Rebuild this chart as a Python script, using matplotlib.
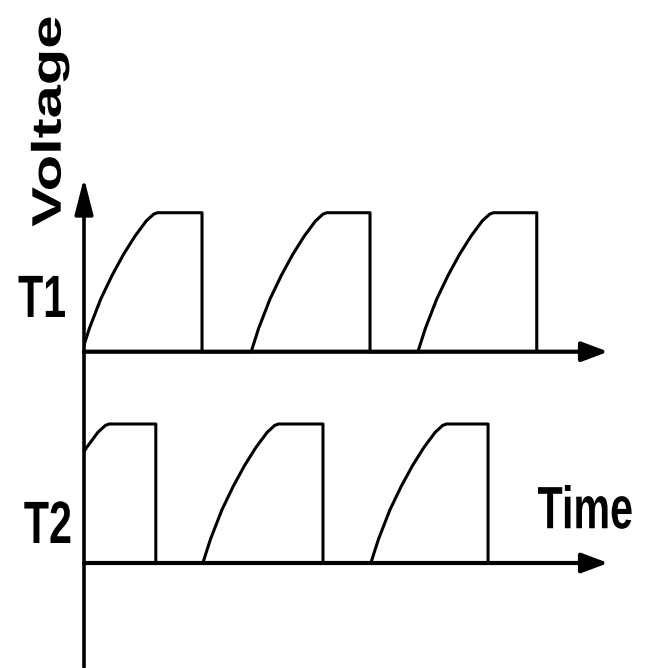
import numpy as np
import matplotlib
matplotlib.use('Agg')
import matplotlib.pyplot as plt
from matplotlib.patches import Rectangle
from matplotlib.patheffects import AbstractPathEffect
from matplotlib.transforms import Affine2D

# ============================================================================
# DATA (time in arbitrary units, voltage normalised to pulse height)
# ============================================================================

# rise shape of one pulse: (fraction of rise time, fraction of amplitude)
rise_frac_t = [0.0, 0.10, 0.25, 0.40, 0.55, 0.70, 0.85, 0.95, 1.0]
rise_frac_v = [0.0, 0.17, 0.38, 0.55, 0.70, 0.83, 0.94, 0.99, 1.0]
rise_time = 1.80

t1_rise_start = [-0.05, 3.98, 7.95]
t1_fall = [2.81, 6.81, 10.78]

t2_rise_start = [-1.2, 2.83, 6.83]
t2_fall = [1.71, 5.69, 9.62]

t1_offset = 1.52     # T1 baseline above T2 baseline
t_axis_end = 12.48
v_axis_top = 2.77
v_axis_bottom = -0.75

labels = {'T1': (-1.0, 1.77), 'T2': (-0.86, 0.144)}


class Squeeze(AbstractPathEffect):
    """Narrow the glyphs horizontally around the text anchor."""
    def __init__(self, text, sx):
        super().__init__()
        self.text = text
        self.sx = sx

    def draw_path(self, renderer, gc, tpath, affine, rgbFace=None):
        x0, y0 = self.text.get_transform().transform(self.text.get_position())
        sq = Affine2D().translate(-x0, -y0).scale(self.sx, 1).translate(x0, y0)
        renderer.draw_path(gc, tpath, affine + sq, rgbFace)


def squeezed(t, sx=0.69):
    t.set_path_effects([Squeeze(t, sx)])
    return t


def pulse_train(starts, falls):
    xs, ys = [], []
    for s, f in zip(starts, falls):
        xs += [s + rise_time * ft for ft in rise_frac_t] + [f, f]
        ys += list(rise_frac_v) + [1.0, 0.0]
    return xs, ys


fig = plt.figure(figsize=(6.54, 6.68), dpi=100)
ax = fig.add_axes([0, 0, 1, 1])
ax.set_xlim(-84 / 42, (654 - 84) / 42)
ax.set_ylim(-(668 - 563) / 139, 563 / 139)
ax.axis('off')

clip = Rectangle((0, -1), 20, 10, transform=ax.transData)

for starts, falls, off in [(t1_rise_start, t1_fall, t1_offset),
                           (t2_rise_start, t2_fall, 0.0)]:
    xs, ys = pulse_train(starts, falls)
    ln, = ax.plot(xs, np.array(ys) + off, color='black', lw=2.2,
                  solid_joinstyle='round', solid_capstyle='butt')
    ln.set_clip_path(clip)
    # time axis with arrow
    ax.annotate('', xy=(t_axis_end, off), xytext=(0, off),
                arrowprops=dict(arrowstyle='-|>,head_length=0.8,head_width=0.3',
                                mutation_scale=20, color='black', lw=3,
                                shrinkA=0, shrinkB=0))

# voltage axis
ax.annotate('', xy=(0, v_axis_top), xytext=(0, v_axis_bottom),
            arrowprops=dict(arrowstyle='-|>,head_length=1.1,head_width=0.28',
                            mutation_scale=20, color='black', lw=2.6,
                            shrinkA=0, shrinkB=0))

fam = ['Liberation Sans', 'DejaVu Sans']
for name, (x, y) in labels.items():
    squeezed(ax.text(x, y, name, ha='center', va='baseline', fontsize=43,
                     fontweight='bold', family=fam))
squeezed(ax.text(13.07, 0.25, 'Time', ha='right', va='baseline', fontsize=43,
                 fontweight='bold', family=fam))
squeezed(ax.text(-0.81, 3.18, 'Voltage', ha='center', va='center', rotation=90,
                 fontsize=43, fontweight='bold', family=fam))

fig.savefig('out.png', dpi=100, facecolor='white')
